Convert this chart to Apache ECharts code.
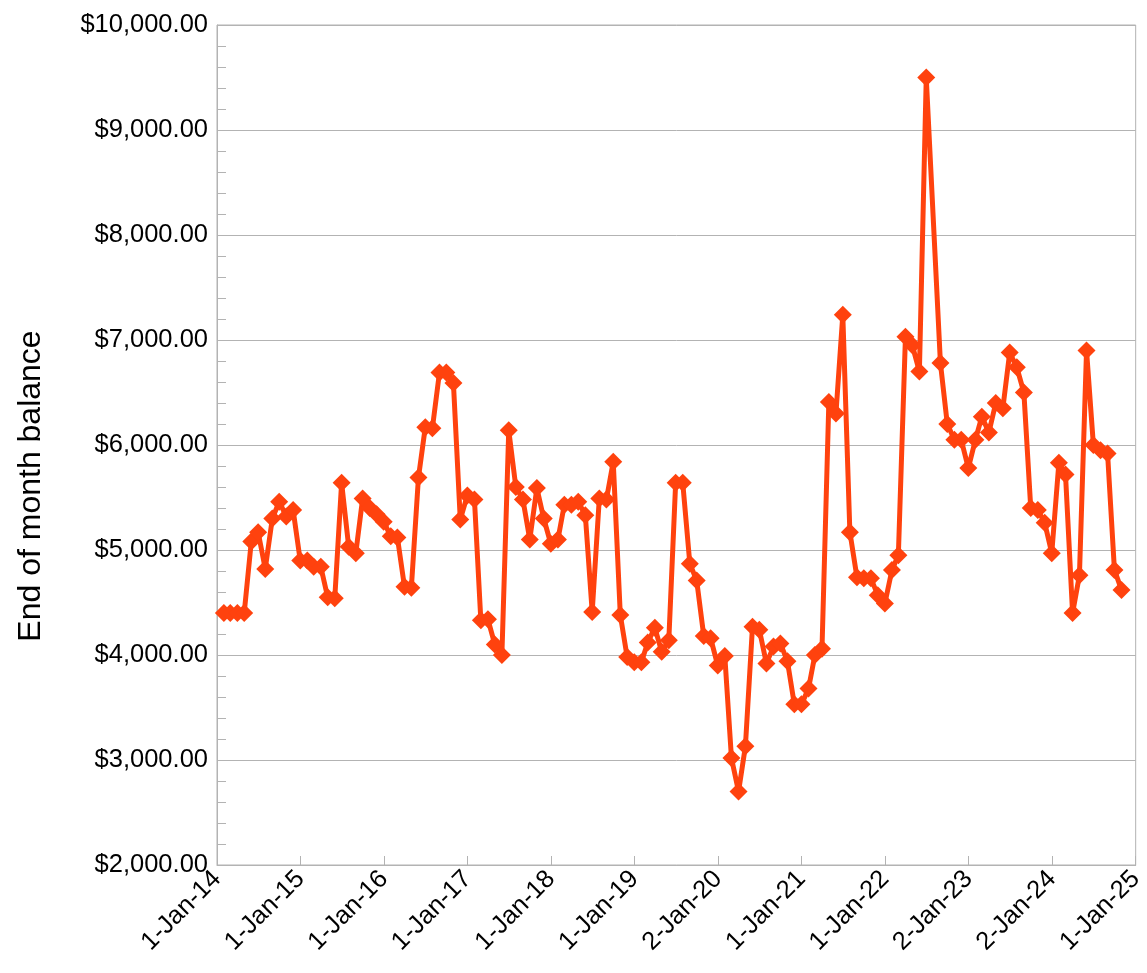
<!DOCTYPE html>
<html>
<head>
<meta charset="utf-8">
<script src="https://cdn.jsdelivr.net/npm/echarts@6/dist/echarts.min.js"></script>
<style>
html,body{margin:0;padding:0;background:#fff;}
#chart{width:1147px;height:973px;}
</style>
</head>
<body>
<div id="chart"></div>
<script>
// Monthly end-of-month balances, Jan 2014 .. Oct 2024 (null = no entry that month)
const firstYear = 2014;
const v2014 = [4400, 4400, 4400, 4400, 5080, 5170, 4820, 5300, 5460, 5320, 5380, 4900];
const v2015 = [4900, 4840, 4840, 4550, 4540, 5640, 5030, 4970, 5490, 5400, 5340, 5270];
const v2016 = [5130, 5120, 4650, 4640, 5690, 6170, 6160, 6690, 6690, 6590, 5290, 5520];
const v2017 = [5480, 4330, 4340, 4100, 4000, 6140, 5600, 5480, 5100, 5590, 5300, 5060];
const v2018 = [5100, 5430, 5430, 5460, 5330, 4410, 5490, 5480, 5840, 4380, 3980, 3930];
const v2019 = [3930, 4120, 4260, 4030, 4140, 5640, 5640, 4870, 4710, 4180, 4160, 3900];
const v2020 = [3990, 3020, 2700, 3130, 4270, 4240, 3920, 4080, 4110, 3940, 3530, 3530];
const v2021 = [3680, 4000, 4060, 6410, 6300, 7240, 5170, 4740, 4730, 4730, 4570, 4490];
const v2022 = [4810, 4950, 7030, 6950, 6700, 9500, null, 6780, 6200, 6050, 6050, 5780];
const v2023 = [6050, 6270, 6120, 6400, 6350, 6880, 6740, 6500, 5400, 5380, 5260, 4970];
const v2024 = [5830, 5720, 4400, 4760, 6900, 6000, 5950, 5920, 4810, 4620];

const tickLabels = ['1-Jan-14','1-Jan-15','1-Jan-16','1-Jan-17','1-Jan-18','1-Jan-19',
  '2-Jan-20','1-Jan-21','1-Jan-22','2-Jan-23','2-Jan-24','1-Jan-25'];

const yTitle = 'End of month balance';

const yearly = [v2014, v2015, v2016, v2017, v2018, v2019, v2020, v2021, v2022, v2023, v2024];

// axis spans 1-Jan-2014 .. 1-Jan-2025, measured in (fractional) tick steps
const t0 = Date.UTC(2014, 0, 1);
const t1 = Date.UTC(2025, 0, 1);
const steps = tickLabels.length - 1;
const points = [];
yearly.forEach((vals, yi) => {
  vals.forEach((v, m) => {
    if (v === null) return;
    const end = Date.UTC(firstYear + yi, m + 1, 0); // last day of month
    points.push([(end - t0) / (t1 - t0) * steps, v]);
  });
});

const FONT = '"Liberation Sans", Arial, sans-serif';
const chart = echarts.init(document.getElementById('chart'), null, {renderer: 'canvas'});
chart.setOption({
  animation: false,
  backgroundColor: '#ffffff',
  grid: {left: 217, right: 10, top: 25, bottom: 108, show: true, borderColor: '#b3b3b3', borderWidth: 1},
  graphic: [{
    type: 'text',
    x: 31, y: 486,
    rotation: Math.PI / 2,
    style: {
      text: yTitle, fill: '#000', font: '32px ' + FONT,
      textAlign: 'center', textVerticalAlign: 'middle'
    }
  }],
  xAxis: {
    type: 'value', min: 0, max: steps, interval: 1,
    axisLine: {show: true, lineStyle: {color: '#b3b3b3', width: 1}},
    axisTick: {show: true, inside: true, length: 9, lineStyle: {color: '#b3b3b3'}},
    splitLine: {show: false},
    axisLabel: {
      rotate: 45, margin: 10, color: '#000', fontFamily: FONT, fontSize: 25.5,
      formatter: v => tickLabels[Math.round(v)] || ''
    }
  },
  yAxis: {
    type: 'value', min: 2000, max: 10000, interval: 1000,
    axisLine: {show: true, lineStyle: {color: '#b3b3b3', width: 1}},
    axisTick: {show: true, inside: true, length: 9, lineStyle: {color: '#b3b3b3'}},
    minorTick: {show: true, splitNumber: 5, length: 9, lineStyle: {color: '#b3b3b3'}},
    splitLine: {show: true, lineStyle: {color: '#b3b3b3', width: 1}},
    axisLabel: {
      margin: 9, color: '#000', fontFamily: FONT, fontSize: 25.5,
      formatter: v => '$' + v.toLocaleString('en-US', {minimumFractionDigits: 2, maximumFractionDigits: 2})
    }
  },
  series: [{
    type: 'line',
    data: points,
    symbol: 'diamond',
    symbolSize: 18,
    lineStyle: {color: '#ff420e', width: 5},
    itemStyle: {color: '#ff420e', borderWidth: 0},
    emphasis: {disabled: true}
  }]
});
</script>
</body>
</html>
